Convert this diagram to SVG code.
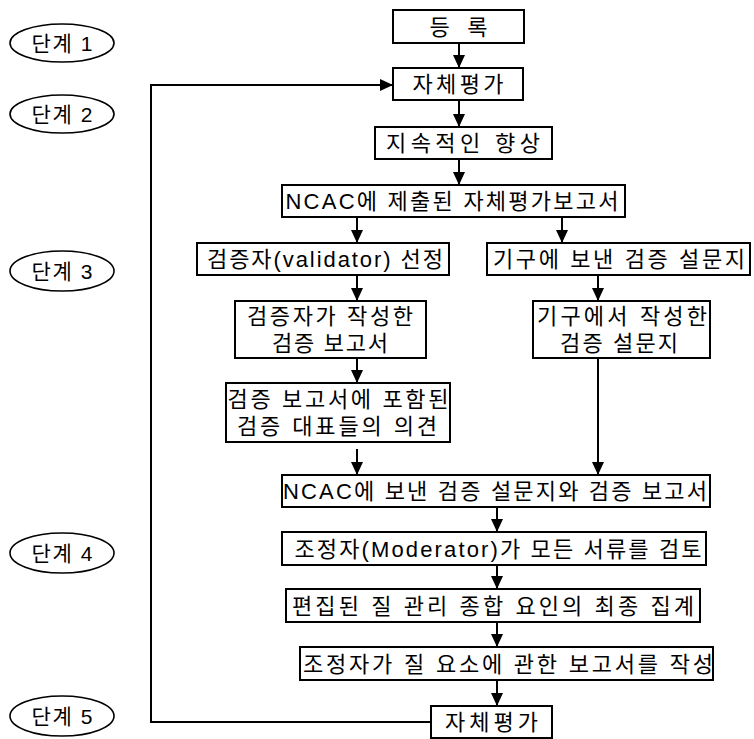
<svg xmlns="http://www.w3.org/2000/svg" width="754" height="739" viewBox="0 0 754 739">
<defs>
<marker id="ah" markerUnits="userSpaceOnUse" markerWidth="13" markerHeight="12" refX="13" refY="6" orient="auto">
<path d="M0,0 L13,6 L0,12 z" fill="#000"/>
</marker>
<style>
rect{fill:#fff;stroke:#000;stroke-width:2}
ellipse{fill:#fff;stroke:#000;stroke-width:1.6}
text{font-family:"Liberation Sans","Noto Sans CJK KR",sans-serif;font-size:22px;fill:#000;text-anchor:middle;dominant-baseline:central}
.st{font-size:21px}
#connectors path{fill:none;stroke:#000;stroke-width:2}
.a{marker-end:url(#ah)}
</style>
</defs>
<rect x="0" y="0" width="754" height="739" style="fill:#fff;stroke:none"/>

<g id="stage1"><ellipse cx="62" cy="43" rx="52" ry="19"/><text class="st" x="62" y="43" textLength="61" lengthAdjust="spacing">단계 1</text></g>
<g id="stage2"><ellipse cx="62" cy="114" rx="52" ry="19"/><text class="st" x="62" y="114" textLength="61" lengthAdjust="spacing">단계 2</text></g>
<g id="stage3"><ellipse cx="62" cy="271" rx="52" ry="20"/><text class="st" x="62" y="271" textLength="61" lengthAdjust="spacing">단계 3</text></g>
<g id="stage4"><ellipse cx="62" cy="553" rx="52" ry="20"/><text class="st" x="62" y="553" textLength="61" lengthAdjust="spacing">단계 4</text></g>
<g id="stage5"><ellipse cx="62" cy="716" rx="52" ry="20"/><text class="st" x="62" y="716" textLength="61" lengthAdjust="spacing">단계 5</text></g>

<g id="connectors">
<path class="a" d="M459,43 V68"/>
<path class="a" d="M459,100 V127"/>
<path class="a" d="M459,159 V185"/>
<path class="a" d="M357,217 V243"/>
<path class="a" d="M562,217 V243"/>
<path class="a" d="M357,275 V301"/>
<path class="a" d="M598,275 V301"/>
<path class="a" d="M357,358 V383"/>
<path class="a" d="M357,449 V475"/>
<path class="a" d="M598,358 V475"/>
<path class="a" d="M497,507 V532"/>
<path class="a" d="M497,565 V589"/>
<path class="a" d="M497,622 V647"/>
<path class="a" d="M497,680 V706"/>
<path class="a" d="M431,722 H151 V85 H393"/>
</g>

<g id="n-register"><rect x="393" y="10" width="131" height="33"/><text x="458.5" y="27" textLength="58" lengthAdjust="spacing">등 록</text></g>
<g id="n-selfeval"><rect x="393" y="68" width="130" height="32"/><text x="458" y="84" textLength="91" lengthAdjust="spacing">자체평가</text></g>
<g id="n-improve"><rect x="375" y="127" width="177" height="32"/><text x="463" y="143" textLength="154" lengthAdjust="spacing">지속적인 향상</text></g>
<g id="n-submitted"><rect x="282" y="185" width="343" height="32"/><text x="452" y="201" textLength="333" lengthAdjust="spacing">NCAC에 제출된 자체평가보고서</text></g>
<g id="n-validator"><rect x="197" y="243" width="252" height="32"/><text x="325" y="259" textLength="236" lengthAdjust="spacing">검증자(validator) 선정</text></g>
<g id="n-survey"><rect x="487" y="243" width="263" height="32"/><text x="619" y="259" textLength="252" lengthAdjust="spacing">기구에 보낸 검증 설문지</text></g>
<g id="n-valreport"><rect x="235" y="301" width="191" height="57"/><text x="330" y="316" textLength="166" lengthAdjust="spacing">검증자가 작성한</text><text x="330" y="343" textLength="116" lengthAdjust="spacing">검증 보고서</text></g>
<g id="n-opinions"><rect x="226" y="383" width="224" height="59"/><text x="338" y="399" textLength="221" lengthAdjust="spacing">검증 보고서에 포함된</text><text x="337" y="426" textLength="200" lengthAdjust="spacing">검증 대표들의 의견</text></g>
<g id="n-instsurvey"><rect x="533" y="301" width="177" height="57"/><text x="622" y="316" textLength="170" lengthAdjust="spacing">기구에서 작성한</text><text x="619" y="343" textLength="118" lengthAdjust="spacing">검증 설문지</text></g>
<g id="n-sent"><rect x="282" y="475" width="428" height="32"/><text x="495" y="491" textLength="424" lengthAdjust="spacing">NCAC에 보낸 검증 설문지와 검증 보고서</text></g>
<g id="n-moderator"><rect x="282" y="532" width="424" height="33"/><text x="498" y="549" textLength="407" lengthAdjust="spacing">조정자(Moderator)가 모든 서류를 검토</text></g>
<g id="n-compiled"><rect x="286" y="589" width="414" height="33"/><text x="493" y="606" textLength="402" lengthAdjust="spacing">편집된 질 관리 종합 요인의 최종 집계</text></g>
<g id="n-report"><rect x="300" y="647" width="413" height="33"/><text x="508" y="664" textLength="410" lengthAdjust="spacing">조정자가 질 요소에 관한 보고서를 작성</text></g>
<g id="n-selfeval2"><rect x="431" y="706" width="121" height="32"/><text x="491.5" y="722" textLength="93" lengthAdjust="spacing">자체평가</text></g>
</svg>
